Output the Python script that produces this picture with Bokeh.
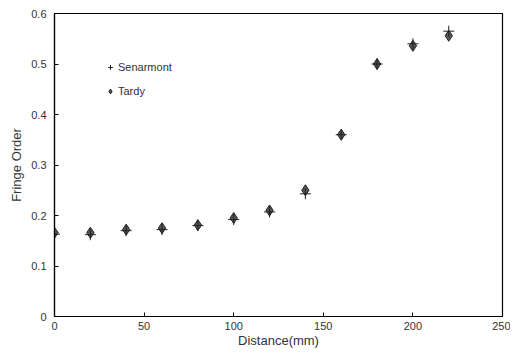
from bokeh.plotting import figure
from bokeh.models import Legend, LegendItem
from bokeh.embed import file_html
from bokeh.resources import INLINE

distance = [0, 20, 40, 60, 80, 100, 120, 140, 160, 180, 200, 220]
senarmont = [0.163, 0.162, 0.170, 0.172, 0.180, 0.192, 0.207, 0.243, 0.360, 0.500, 0.540, 0.565]
tardy = [0.166, 0.166, 0.172, 0.175, 0.181, 0.195, 0.210, 0.250, 0.360, 0.500, 0.536, 0.556]

p = figure(width=510, height=350, output_backend="svg", toolbar_location=None,
           x_range=(0, 250), y_range=(0, 0.6),
           min_border_left=54, min_border_right=8, min_border_top=13, min_border_bottom=29)
p.xgrid.visible = False
p.ygrid.visible = False
p.outline_line_color = "black"
p.outline_line_width = 1.2
p.background_fill_color = "white"
p.border_fill_color = "white"

for ax in (p.xaxis[0], p.yaxis[0]):
    ax.axis_line_color = "black"
    ax.axis_line_width = 1.2
    ax.major_tick_in = 4
    ax.major_tick_out = 0
    ax.minor_tick_in = 0
    ax.minor_tick_out = 0
    ax.major_label_text_font = "Liberation Sans"
    ax.major_label_text_font_size = "11px"
    ax.major_label_text_color = "#333333"
    ax.axis_label_text_font = "Liberation Sans"
    ax.axis_label_text_font_size = "13px"
    ax.axis_label_text_font_style = "normal"
    ax.axis_label_text_color = "#333333"

p.xaxis.ticker = [0, 50, 100, 150, 200, 250]
p.yaxis.ticker = [0, 0.1, 0.2, 0.3, 0.4, 0.5, 0.6]
p.yaxis.major_label_overrides = {0: "0"}
p.xaxis.axis_label = "Distance(mm)"
p.yaxis.axis_label = "Fringe Order"
p.xaxis.major_label_standoff = 5
p.yaxis.major_label_standoff = 8
p.xaxis.axis_label_standoff = 0
p.yaxis.axis_label_standoff = 4

r_t = p.scatter(distance, tardy, marker="diamond", size=11, fill_color="#555555",
                line_color="#222222", line_width=1)
r_s = p.scatter(distance, senarmont, marker="cross", size=11, line_color="#222222", line_width=1)

legend = Legend(items=[LegendItem(label="Senarmont", renderers=[r_s]),
                       LegendItem(label="Tardy", renderers=[r_t])],
                location=(50, 215))
legend.border_line_color = None
legend.background_fill_alpha = 0
legend.label_text_font = "Liberation Sans"
legend.label_text_font_size = "11px"
legend.label_text_color = "#333333"
legend.glyph_width = 12
legend.label_standoff = 2
legend.spacing = 4
p.add_layout(legend)

open("out.html", "w").write(file_html(p, INLINE))
